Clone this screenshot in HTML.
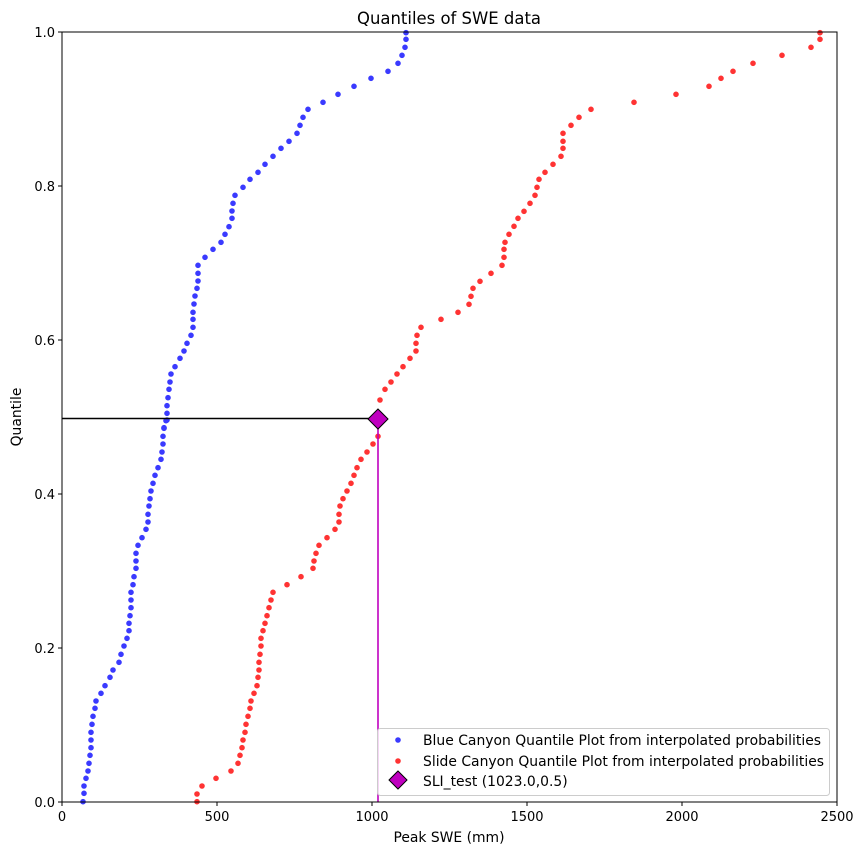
<!DOCTYPE html>
<html><head><meta charset="utf-8"><style>
body{margin:0;background:#fff;}
svg{display:block;font-family:"DejaVu Sans","Liberation Sans",sans-serif;}
</style></head><body>
<svg id="s" width="863" height="855" viewBox="0 0 863 855" xmlns="http://www.w3.org/2000/svg">
<rect width="863" height="855" fill="#fff"/>
<text x="449" y="24" font-size="16.5" text-anchor="middle" textLength="184" lengthAdjust="spacingAndGlyphs">Quantiles of SWE data</text>
<g id="pts"></g>
<line x1="62" y1="418.5" x2="378" y2="418.5" stroke="#000" stroke-width="1.6"/>
<line x1="378" y1="419" x2="378" y2="802" stroke="#bf00bf" stroke-width="1.6"/>
<polygon points="378,409 388,419 378,429 368,419" fill="#bf00bf" stroke="#000" stroke-width="1"/>
<rect x="62" y="32" width="775" height="770" fill="none" stroke="#000" stroke-width="1"/>
<g stroke="#000" stroke-width="1">
<line x1="62" y1="802" x2="62" y2="806"/><line x1="217" y1="802" x2="217" y2="806"/><line x1="372" y1="802" x2="372" y2="806"/><line x1="527" y1="802" x2="527" y2="806"/><line x1="682" y1="802" x2="682" y2="806"/><line x1="837" y1="802" x2="837" y2="806"/>
<line x1="58" y1="802" x2="62" y2="802"/><line x1="58" y1="648" x2="62" y2="648"/><line x1="58" y1="494" x2="62" y2="494"/><line x1="58" y1="340" x2="62" y2="340"/><line x1="58" y1="186" x2="62" y2="186"/><line x1="58" y1="32" x2="62" y2="32"/>
</g>
<g font-size="13" text-anchor="middle">
<text x="62" y="821">0</text><text x="217" y="821">500</text><text x="372" y="821">1000</text><text x="527" y="821">1500</text><text x="682" y="821">2000</text><text x="837" y="821">2500</text>
<text x="449" y="842" font-size="13.9">Peak SWE (mm)</text>
</g>
<g font-size="13" text-anchor="end">
<text x="55" y="807">0.0</text><text x="55" y="653">0.2</text><text x="55" y="499">0.4</text><text x="55" y="345">0.6</text><text x="55" y="191">0.8</text><text x="55" y="37">1.0</text>
</g>
<text transform="translate(21,417) rotate(-90)" font-size="13.9" text-anchor="middle">Quantile</text>
<rect x="377.5" y="728.5" width="452" height="67" rx="3" fill="#fff" fill-opacity="0.8" stroke="#ccc"/>
<circle cx="398" cy="740" r="2.8" fill="#3a3aff"/>
<circle cx="398" cy="761" r="2.8" fill="#ff3333"/>
<polygon points="398,771 407,780 398,789 389,780" fill="#bf00bf" stroke="#000" stroke-width="1"/>
<g font-size="13.9">
<text x="423" y="745" textLength="398" lengthAdjust="spacingAndGlyphs">Blue Canyon Quantile Plot from interpolated probabilities</text>
<text x="423" y="766" textLength="401" lengthAdjust="spacingAndGlyphs">Slide Canyon Quantile Plot from interpolated probabilities</text>
<text x="423" y="786">SLI_test (1023.0,0.5)</text>
</g>
</svg>
<script>
var b2=[[1145,83],[1120,84],[1098,84],[1075,86],[1053,88],[1030,89],[1006,90],[983,91],[960,91],[937,91],[913,92],[889,93],[865,95],[843,96],[820,101],[797,105],[772,110],[750,113],[727,119],[703,121],[678,124],[655,127],[632,129],[610,129],[587,130],[563,131],[540,131],[517,131],[494,133],[470,134],[445,136],[423,136],[400,136],[376,138],[353,142],[328,146],[306,148],[283,148],[258,149],[236,150],[213,151],[190,153],[166,155],[143,158],[118,161],[96,162],[72,163],[49,163],[25,164],[2,166]];
var b1=[[1193,164],[1170,167],[1150,167],[1127,167],[1103,168],[1078,169],[1056,170],[1032,171],[1010,175],[985,180],[963,184],[940,187],[916,191],[892,193],[868,193],[847,193],[822,194],[798,195],[775,197],[753,198],[730,198],[706,198],[682,205],[658,213],[637,221],[613,225],[590,229],[565,232],[543,232],[520,233],[496,235],[472,243],[448,250],[427,258],[403,265],[379,273],[355,281],[334,289],[310,297],[286,300],[262,303],[238,308],[217,323],[193,338],[169,354],[145,371],[124,388],[100,398],[76,402],[52,405],[28,406],[8,406]];
var r2=[[1145,197],[1122,197],[1098,202],[1075,216],[1053,231],[1030,238],[1006,240],[983,242],[960,243],[937,245],[913,246],[889,248],[865,250],[843,251],[820,254],[797,257],[772,258],[750,259],[727,259],[703,260],[678,261],[655,261],[632,263],[610,265],[587,267],[563,269],[540,271],[517,273],[494,287],[470,301],[445,313],[423,314],[400,316],[376,319],[353,327],[328,335],[306,339],[283,339],[258,340],[236,343],[213,347],[190,351],[166,354],[143,357],[118,361],[96,367],[72,373],[49,378]];
var r1=[[1110,380],[1078,385],[1056,391],[1032,397],[1010,403],[985,410],[963,416],[940,416],[916,417],[892,421]];
var r3=[[868,441],[847,458],[823,469],[799,471],[775,473],[754,480],[730,491],[706,502],[682,504],[658,504],[637,505],[613,509],[589,514],[565,518],[544,524],[520,530],[496,535],[472,537],[448,539],[427,545],[403,553],[379,561],[355,563],[334,563],[310,563],[286,571],[262,579],[238,591],[217,634],[193,676],[169,709],[145,721],[124,733],[100,753],[76,782],[52,811],[28,820],[8,820]];
var g=document.getElementById('pts'),h='';
function add(a,oy,c){a.forEach(function(p){h+='<circle cx="'+p[1]+'" cy="'+(oy+p[0]/3).toFixed(1)+'" r="2.8" fill="'+c+'"/>';});}
add(b2,420,'#3a3aff');add(b1,30,'#3a3aff');add(r2,420,'#ff3333');add(r1,30,'#ff3333');add(r3,30,'#ff3333');
g.innerHTML=h;
</script>
</body></html>
